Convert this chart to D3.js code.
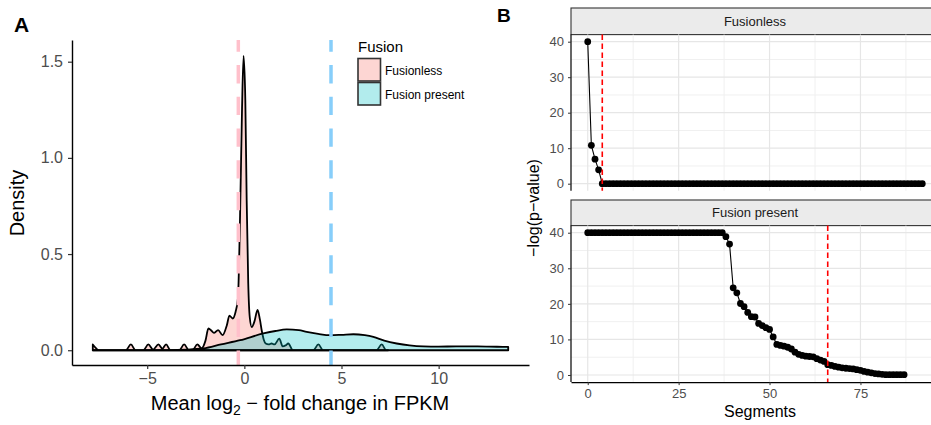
<!DOCTYPE html>
<html>
<head>
<meta charset="utf-8">
<script src="https://cdn.jsdelivr.net/npm/d3@7"></script>
<style>
  body { margin: 0; background: #fff; }
  svg { font-family: "Liberation Sans", Arial, sans-serif; }
</style>
</head>
<body>
<div id="wrapper"></div>
<script>
// ---- panel A: density of mean log2 fold change ----
const fusionlessX = [-7.8, -7.65, -7.5, -6.1, -5.84, -5.6, -5.2, -4.94, -4.7, -4.42, -4.22, -4.03, -3.8,
  -3.35, -3.1, -2.85, -2.65, -2.42, -2.2, -2.0, -1.85, -1.68, -1.55, -1.35, -1.12, -0.9, -0.77, -0.6,
  -0.45, -0.33, -0.22, -0.12, -0.04, 0.05, 0.12, 0.2, 0.28, 0.38, 0.52, 0.68, 0.8, 0.9, 1.0, 1.1, 1.25,
  1.4, 1.55, 1.8, 1.97, 2.12, 2.26, 2.5, 3.55, 3.81, 4.05, 6.8, 7.07, 7.3, 7.4];
const fusionlessDensity = [0.03, 0.012, 0, 0, 0.03, 0, 0, 0.03, 0.003, 0.03, 0.008, 0.03, 0,
  0, 0.03, 0, 0.002, 0.03, 0.01, 0.05, 0.113, 0.1, 0.09, 0.105, 0.078, 0.13, 0.18, 0.165,
  0.2, 0.27, 0.7, 1.25, 1.53, 1.3, 0.78, 0.35, 0.17, 0.12, 0.15, 0.21, 0.16, 0.1, 0.055, 0.035, 0.03,
  0.035, 0.03, 0.06, 0.02, 0.025, 0.035, 0, 0, 0.03, 0, 0, 0.03, 0, 0];

const fusionX = [-7.8, -4, -3, -2.1, -1.2, -0.22, 0.98, 1.6, 2.18, 2.8, 3.21, 3.8, 4.41, 5.0, 5.61,
  6.2, 6.64, 7.2, 7.84, 8.5, 9.21, 10.0, 10.9, 12.0, 13.0, 13.58];
const fusionDensity = [0, 0.001, 0.003, 0.009, 0.03, 0.052, 0.087, 0.1, 0.108, 0.104, 0.095, 0.085, 0.078,
  0.08, 0.083, 0.078, 0.069, 0.05, 0.035, 0.025, 0.02, 0.019, 0.02, 0.02, 0.018, 0.017];

const groupNames = ["Fusionless", "Fusion present"];
const groupMeans = [-0.31, 4.46];
const xTicksA = [-5, 0, 5, 10];
const yTicksA = [0, 0.5, 1.0, 1.5];

// ---- panel B: -log(p-value) per segment ----
const fusionlessP = [40, 10.8, 6.9, 3.9, 0, 0, 0, 0, 0, 0,
  0, 0, 0, 0, 0, 0, 0, 0, 0, 0,
  0, 0, 0, 0, 0, 0, 0, 0, 0, 0,
  0, 0, 0, 0, 0, 0, 0, 0, 0, 0,
  0, 0, 0, 0, 0, 0, 0, 0, 0, 0,
  0, 0, 0, 0, 0, 0, 0, 0, 0, 0,
  0, 0, 0, 0, 0, 0, 0, 0, 0, 0,
  0, 0, 0, 0, 0, 0, 0, 0, 0, 0,
  0, 0, 0, 0, 0, 0, 0, 0, 0, 0,
  0, 0, 0];
const fusionPresentP = [40, 40, 40, 40, 40, 40, 40, 40, 40, 40,
  40, 40, 40, 40, 40, 40, 40, 40, 40, 40,
  40, 40, 40, 40, 40, 40, 40, 40, 40, 40,
  40, 40, 40, 40, 40, 40, 40, 40, 38.9, 36.8,
  24.5, 23.1, 20.1, 19.2, 17.6, 16.4, 16.3, 14.5, 13.9, 13.3,
  12.8, 10.7, 8.6, 8.3, 8.1, 7.8, 7.3, 6.4, 5.8, 5.5,
  5.3, 5.2, 5.1, 4.6, 4.2, 3.8, 2.9, 2.7, 2.4, 2.2,
  2.0, 1.9, 1.8, 1.7, 1.5, 1.3, 1.0, 0.8, 0.6, 0.4,
  0.3, 0.2, 0.1, 0.1, 0.1, 0.1, 0.1, 0.1];
const cutoffs = [4, 66];
const xTicksB = [0, 25, 50, 75];
const yTicksB = [0, 10, 20, 30, 40];

const fills = ["#F8766D", "#00BFC4"];
const lineColors = ["#FFC0CB", "#87CEFA"];

const svg = d3.select("#wrapper").append("svg")
    .attr("width", 931)
    .attr("height", 425);

// ===== Panel A =====
const xA = d3.scaleLinear().domain([-8.87, 14.65]).range([72, 529]);
const yA = d3.scaleLinear().domain([-0.0768, 1.6128]).range([365, 40]);

const area = d3.area()
    .x(d => xA(d[0]))
    .y0(yA(0))
    .y1(d => yA(d[1]))
    .curve(d3.curveMonotoneX);

const series = [
    d3.zip(fusionlessX, fusionlessDensity),
    d3.zip(fusionX, fusionDensity)
];

svg.selectAll("path.density")
    .data(series)
    .enter()
    .append("path")
    .attr("class", "density")
    .attr("d", area)
    .attr("fill", (d, i) => fills[i])
    .attr("fill-opacity", 0.3)
    .attr("stroke", "#000")
    .attr("stroke-width", 1.8)
    .attr("stroke-linejoin", "round");

svg.selectAll("line.mean")
    .data(groupMeans)
    .enter()
    .append("line")
    .attr("class", "mean")
    .attr("x1", d => xA(d))
    .attr("x2", d => xA(d))
    .attr("y1", 40)
    .attr("y2", 365)
    .attr("stroke", (d, i) => lineColors[i])
    .attr("stroke-width", 3.5)
    .attr("stroke-dasharray", "18.3,13.4")
    .attr("stroke-dashoffset", 6.6);

const axA = svg.append("g").attr("transform", "translate(0,365)")
    .call(d3.axisBottom(xA).tickValues(xTicksA).tickSize(4).tickSizeOuter(0).tickPadding(4));
const ayA = svg.append("g").attr("transform", "translate(72,0)")
    .call(d3.axisLeft(yA).tickValues(yTicksA).tickFormat(d3.format(".1f")).tickSize(4).tickSizeOuter(0).tickPadding(5));
[axA, ayA].forEach(g => {
    g.select(".domain").attr("stroke", "#000").attr("stroke-width", 1.4);
    g.selectAll(".tick line").attr("stroke", "#333").attr("stroke-width", 1.2);
    g.selectAll(".tick text").attr("fill", "#4D4D4D").style("font-size", "16px")
        .style("font-family", "'Liberation Sans', Arial, sans-serif");
});

svg.append("text")
    .attr("x", 300)
    .attr("y", 410)
    .attr("text-anchor", "middle")
    .style("font-size", "20px")
    .call(t => {
        t.append("tspan").text("Mean log");
        t.append("tspan").attr("dy", 5).style("font-size", "14px").text("2");
        t.append("tspan").attr("dy", -5).text(" \u2212 fold change in FPKM");
    });

svg.append("text")
    .attr("transform", "translate(24,203) rotate(-90)")
    .attr("text-anchor", "middle")
    .style("font-size", "20px")
    .text("Density");

// legend
const legend = svg.append("g").attr("transform", "translate(358,0)");
legend.append("text").attr("x", 0).attr("y", 52).style("font-size", "15px").text("Fusion");
const keys = legend.selectAll("g.key")
    .data(groupNames)
    .enter()
    .append("g")
    .attr("class", "key")
    .attr("transform", (d, i) => `translate(0,${58.5 + i * 24})`);
keys.append("rect")
    .attr("width", 22.5)
    .attr("height", 22.5)
    .attr("fill", (d, i) => fills[i])
    .attr("fill-opacity", 0.3)
    .attr("stroke", "#333")
    .attr("stroke-width", 1.6);
keys.append("text")
    .attr("x", 27)
    .attr("y", 16)
    .style("font-size", "12px")
    .text(d => d);

svg.append("text").attr("x", 14).attr("y", 32)
    .style("font-size", "21px").style("font-weight", "bold").text("A");
svg.append("text").attr("x", 497).attr("y", 22)
    .style("font-size", "19px").style("font-weight", "bold").text("B");

// ===== Panel B =====
const xB = d3.scaleLinear().domain([-4.6, 96.6]).range([571, 939]);
const facets = [
    {name: "Fusionless", values: fusionlessP, cut: cutoffs[0], stripTop: 8, top: 34.6, bottom: 190.8},
    {name: "Fusion present", values: fusionPresentP, cut: cutoffs[1], stripTop: 200, top: 225.6, bottom: 382.1}
];

facets.forEach((f, fi) => {
    const y = d3.scaleLinear().domain([-2, 42]).range([f.bottom, f.top]);
    const g = svg.append("g");

    // strip
    g.append("rect")
        .attr("x", 571).attr("y", f.stripTop)
        .attr("width", 380).attr("height", f.top - f.stripTop)
        .attr("fill", "#EBEBEB").attr("stroke", "#333").attr("stroke-width", 1.1);
    g.append("text")
        .attr("x", 755).attr("y", (f.stripTop + f.top) / 2 + 4.5)
        .attr("text-anchor", "middle")
        .attr("fill", "#1A1A1A")
        .style("font-size", "13px")
        .text(f.name);

    // grid
    const minorX = [12.5, 37.5, 62.5, 87.5];
    const minorY = [5, 15, 25, 35];
    g.selectAll("line.minx").data(minorX).enter().append("line")
        .attr("x1", d => xB(d)).attr("x2", d => xB(d)).attr("y1", f.top).attr("y2", f.bottom)
        .attr("stroke", "#F0F0F0").attr("stroke-width", 1);
    g.selectAll("line.miny").data(minorY).enter().append("line")
        .attr("y1", d => y(d)).attr("y2", d => y(d)).attr("x1", 571).attr("x2", 939)
        .attr("stroke", "#F0F0F0").attr("stroke-width", 1);
    g.selectAll("line.majx").data(xTicksB).enter().append("line")
        .attr("x1", d => xB(d)).attr("x2", d => xB(d)).attr("y1", f.top).attr("y2", f.bottom)
        .attr("stroke", "#E6E6E6").attr("stroke-width", 1.2);
    g.selectAll("line.majy").data(yTicksB).enter().append("line")
        .attr("y1", d => y(d)).attr("y2", d => y(d)).attr("x1", 571).attr("x2", 939)
        .attr("stroke", "#E6E6E6").attr("stroke-width", 1.2);

    // series
    const pts = f.values.map((v, i) => [i, v]);
    g.append("path")
        .datum(pts)
        .attr("fill", "none")
        .attr("stroke", "#000")
        .attr("stroke-width", 1.1)
        .attr("d", d3.line().x(d => xB(d[0])).y(d => y(d[1])));
    g.selectAll("circle").data(pts).enter().append("circle")
        .attr("cx", d => xB(d[0]))
        .attr("cy", d => y(d[1]))
        .attr("r", 3.4)
        .attr("fill", "#000");

    g.append("line")
        .attr("x1", xB(f.cut)).attr("x2", xB(f.cut))
        .attr("y1", f.top).attr("y2", f.bottom)
        .attr("stroke", "#FF0000")
        .attr("stroke-width", 1.6)
        .attr("stroke-dasharray", "5.5,3.5");

    const ay = g.append("g").attr("transform", "translate(571,0)")
        .call(d3.axisLeft(y).tickValues(yTicksB).tickSize(3).tickSizeOuter(0).tickPadding(4));
    ay.select(".domain").attr("d", `M0,${f.top}V${f.bottom}`).attr("stroke", "#000").attr("stroke-width", 1.2);
    ay.selectAll(".tick line").attr("stroke", "#333");
    ay.selectAll(".tick text").attr("fill", "#4D4D4D").style("font-size", "13px")
        .style("font-family", "'Liberation Sans', Arial, sans-serif");

    if (fi === 1) {
        const ax = g.append("g").attr("transform", `translate(0,${f.bottom})`)
            .call(d3.axisBottom(xB).tickValues(xTicksB).tickSize(3).tickSizeOuter(0).tickPadding(4));
        ax.select(".domain").attr("stroke", "#000").attr("stroke-width", 1.2);
        ax.selectAll(".tick line").attr("stroke", "#333");
        ax.selectAll(".tick text").attr("fill", "#4D4D4D").style("font-size", "13px")
            .style("font-family", "'Liberation Sans', Arial, sans-serif");
    }
});

svg.append("text")
    .attr("x", 760).attr("y", 417)
    .attr("text-anchor", "middle")
    .style("font-size", "16px")
    .text("Segments");

svg.append("text")
    .attr("transform", "translate(539,208) rotate(-90)")
    .attr("text-anchor", "middle")
    .style("font-size", "16px")
    .text("\u2212log(p\u2212value)");
</script>
</body>
</html>
